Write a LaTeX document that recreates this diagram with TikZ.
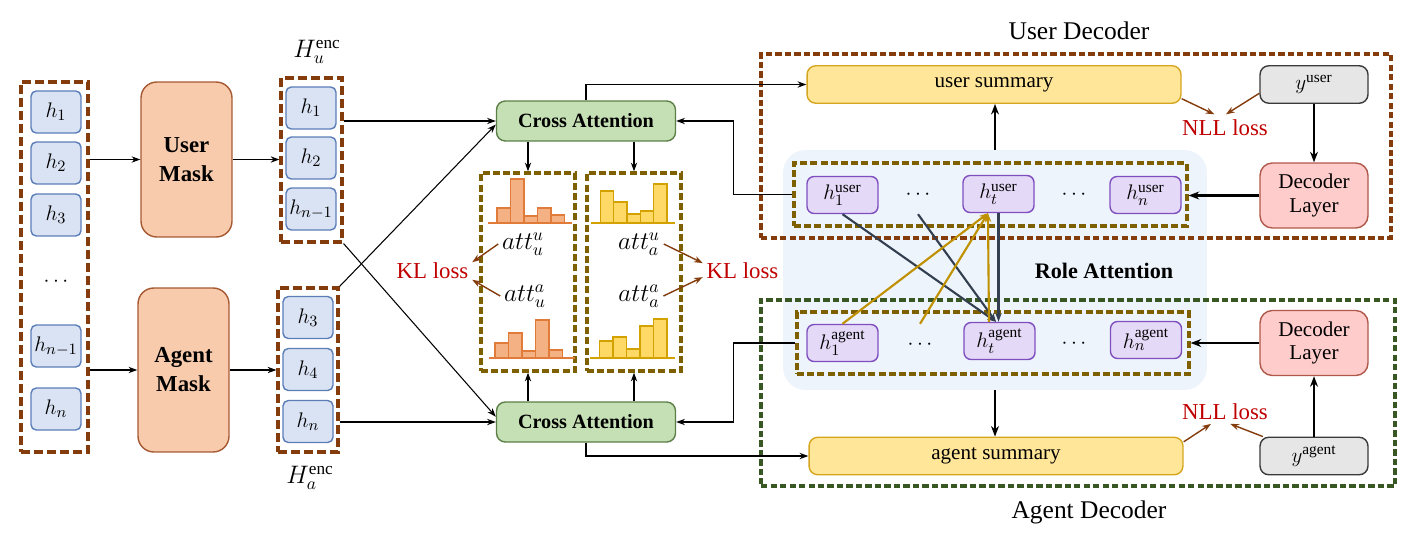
\documentclass[tikz,border=0pt]{standalone}
\usepackage{fontspec}
\setmainfont{Liberation Serif}
\usetikzlibrary{arrows.meta}
\definecolor{encbrown}{HTML}{843C0C}
\definecolor{decgreen}{HTML}{385723}
\definecolor{goldline}{HTML}{7F6000}
\definecolor{hfill}{HTML}{DAE3F3}
\definecolor{hdraw}{HTML}{5B7DB8}
\definecolor{maskfill}{HTML}{F8CBAD}
\definecolor{maskdraw}{HTML}{A65A32}
\definecolor{cafill}{HTML}{C5E0B4}
\definecolor{cadraw}{HTML}{5B7F46}
\definecolor{sumfill}{HTML}{FFE699}
\definecolor{sumdraw}{HTML}{D6A520}
\definecolor{gtfill}{HTML}{E7E6E6}
\definecolor{gtdraw}{HTML}{3A3A3A}
\definecolor{decfill}{HTML}{FFCCCC}
\definecolor{decdraw}{HTML}{B0584A}
\definecolor{rhfill}{HTML}{E4D9F6}
\definecolor{rhdraw}{HTML}{7F4FBF}
\definecolor{rolebgc}{HTML}{EEF4FB}
\definecolor{barUfill}{HTML}{F4B183}
\definecolor{barUdraw}{HTML}{E07B39}
\definecolor{barAfill}{HTML}{FFD966}
\definecolor{barAdraw}{HTML}{D4A200}
\definecolor{lossred}{HTML}{C00000}
\definecolor{attgold}{HTML}{BF9000}
\definecolor{attdark}{HTML}{333F50}
\tikzset{
  >={Stealth[length=5pt,width=3.6pt]},
  hbox/.style={draw=hdraw, fill=hfill, line width=0.8pt, rounded corners=3pt, minimum width=1cm, minimum height=0.84cm, inner sep=0pt, font=\fontsize{12.5}{14}\selectfont},
  encbox/.style={draw=encbrown, line width=1.8pt, dash pattern=on 5pt off 2.4pt},
  decbox/.style={line width=1.8pt, dash pattern=on 3.6pt off 1.8pt},
  goldbox/.style={draw=goldline, line width=1.9pt, dash pattern=on 4pt off 1.8pt},
  mask/.style={draw=maskdraw, fill=maskfill, line width=0.8pt, rounded corners=9pt, minimum width=1.82cm, align=center, font=\fontsize{13}{16.5}\selectfont\bfseries},
  crossatt/.style={draw=cadraw, fill=cafill, line width=0.8pt, rounded corners=5pt, minimum width=3.58cm, minimum height=0.8cm, font=\fontsize{11.5}{13}\selectfont\bfseries},
  summ/.style={draw=sumdraw, fill=sumfill, line width=0.8pt, rounded corners=5pt, minimum width=7.48cm, minimum height=0.75cm, font=\fontsize{12}{14}\selectfont},
  gtbox/.style={draw=gtdraw, fill=gtfill, line width=0.8pt, rounded corners=5pt, minimum width=2.16cm, minimum height=0.75cm, font=\fontsize{12.5}{14}\selectfont},
  declayer/.style={draw=decdraw, fill=decfill, line width=0.8pt, rounded corners=7pt, minimum width=2.16cm, minimum height=1.3cm, align=center, font=\fontsize{12}{13.5}\selectfont},
  rolebox/.style={draw=rhdraw, fill=rhfill, line width=0.8pt, rounded corners=4pt, minimum width=1.42cm, minimum height=0.74cm, inner sep=0pt, font=\fontsize{12.5}{14}\selectfont},
  losstxt/.style={text=lossred, inner sep=2pt, font=\fontsize{13}{15}\selectfont},
  atttxt/.style={inner sep=2pt, font=\fontsize{14}{16}\selectfont},
  titletxt/.style={font=\fontsize{14.5}{17}\selectfont},
  thinarr/.style={->, line width=0.6pt},
  bigarr/.style={-{Stealth[length=6pt,width=4.5pt]}, line width=1.3pt},
  lossarr/.style={->, encbrown, line width=0.8pt},
  darkarr/.style={->, attdark, line width=1.2pt},
  goldarr/.style={->, attgold, line width=1.2pt},
  barU/.style={draw=barUdraw, fill=barUfill, line width=0.7pt},
  barA/.style={draw=barAdraw, fill=barAfill, line width=0.7pt}
}
\begin{document}
\begin{tikzpicture}[x=0.02cm,y=-0.02cm]
  \useasboundingbox (0,0) rectangle (1412,534);
  %% encoder states
  \node[encbox, minimum width=1.34cm, minimum height=7.4cm] (inbox) at (54.5,267) {};
  \node[hbox] (in1) at (56,112) {$h_1$};
  \node[hbox] (in2) at (56,163) {$h_2$};
  \node[hbox] (in3) at (56,215) {$h_3$};
  \node[font=\fontsize{12}{14}\selectfont] (indots) at (56,282) {$\cdots$};
  \node[hbox] (in4) at (56,346) {$h_{n-1}$};
  \node[hbox] (in5) at (56,409) {$h_n$};
  %% masks
  \node[mask, minimum height=3.1cm] (umask) at (186.5,159.5) {User\\Mask};
  \node[mask, minimum height=3.28cm] (amask) at (183.5,370) {Agent\\Mask};
  \draw[thinarr] (inbox.east |- umask.west) -- (umask.west);
  \draw[thinarr] (inbox.east |- amask.west) -- (amask.west);
  %% masked states
  \node[encbox, minimum width=1.22cm, minimum height=3.28cm] (hubox) at (311.5,160) {};
  \node[hbox] (hu1) at (311,108) {$h_1$};
  \node[hbox] (hu2) at (311,158) {$h_2$};
  \node[hbox] (hu3) at (311,209) {$h_{n-1}$};
  \node[atttxt] (hulab) at (317,52) {$H_u^{\mathrm{enc}}$};
  \node[encbox, minimum width=1.2cm, minimum height=3.28cm] (habox) at (308,370) {};
  \node[hbox] (ha1) at (308,317.5) {$h_3$};
  \node[hbox] (ha2) at (308,369.5) {$h_4$};
  \node[hbox] (ha3) at (308,421.5) {$h_n$};
  \node[atttxt] (halab) at (310,478) {$H_a^{\mathrm{enc}}$};
  \draw[thinarr] (umask.east) -- (umask.east -| hubox.west);
  \draw[thinarr] (amask.east) -- (amask.east -| habox.west);
  %% cross attention
  \node[crossatt] (catop) at (586,121) {Cross Attention};
  \node[crossatt] (cabot) at (586,422) {Cross Attention};
  \draw[thinarr] (hubox.east |- catop.west) -- (catop.west);
  \draw[thinarr] (habox.east |- cabot.west) -- (cabot.west);
  \draw[thinarr] (hubox.south east) -- ([yshift=3pt]cabot.west);
  \draw[thinarr] (habox.north east) -- ([yshift=-2pt]catop.west);
  %% attention distributions
  \node[goldbox, minimum width=1.88cm, minimum height=3.96cm] (attl) at (528,272) {};
  \node[goldbox, minimum width=1.88cm, minimum height=3.96cm] (attr) at (634,272) {};
  \draw[thinarr] (catop.south -| attl.north) -- (attl.north);
  \draw[thinarr] (catop.south -| attr.north) -- (attr.north);
  \draw[thinarr] (cabot.north -| attl.south) -- (attl.south);
  \draw[thinarr] (cabot.north -| attr.south) -- (attr.south);
  \foreach \hh [count=\i from 0] in {15,44,7,15,8}
    \draw[barU] ({497+13.5*\i},223) rectangle ++(13.5,-\hh);
  \foreach \hh [count=\i from 0] in {15,25,7,38,8}
    \draw[barU] ({495+13.5*\i},358) rectangle ++(13.5,-\hh);
  \foreach \hh [count=\i from 0] in {32,21,9,12,39}
    \draw[barA] ({600.5+13.3*\i},223) rectangle ++(13.3,-\hh);
  \foreach \hh [count=\i from 0] in {17,21,9,32,39}
    \draw[barA] ({599.5+13.5*\i},358) rectangle ++(13.5,-\hh);
  \draw[barUdraw, line width=0.7pt] (488,223) -- (572,223);
  \draw[barUdraw, line width=0.7pt] (489,358) -- (575,358);
  \draw[barAdraw, line width=0.7pt] (591,223) -- (675,223);
  \draw[barAdraw, line width=0.7pt] (590,358) -- (675,358);
  \node[atttxt] (attuu) at (523,244) {$att_u^u$};
  \node[atttxt] (attua) at (525,296) {$att_u^a$};
  \node[atttxt] (attau) at (639,244) {$att_a^u$};
  \node[atttxt] (attaa) at (639,296) {$att_a^a$};
  %% KL losses
  \node[losstxt] (klL) at (432.5,271) {KL loss};
  \node[losstxt] (klR) at (742.5,271) {KL loss};
  \draw[lossarr] (attuu.west) -- ([yshift=5pt]klL.east);
  \draw[lossarr] (attua.west) -- ([yshift=-5pt]klL.east);
  \draw[lossarr] (attau.east) -- ([yshift=4.5pt]klR.west);
  \draw[lossarr] (attaa.east) -- ([yshift=-3.5pt]klR.west);
  %% role attention
  \node[fill=rolebgc, rounded corners=0.45cm, minimum width=8.48cm, minimum height=4.8cm] (rolebg) at (995,270) {};
  \node[font=\fontsize{12.6}{15}\selectfont\bfseries] (rolelab) at (1104,271) {Role Attention};
  %% decoders
  \node[decbox, draw=encbrown, minimum width=12.6cm, minimum height=3.68cm] (udec) at (1076,146) {};
  \node[decbox, draw=decgreen, minimum width=12.68cm, minimum height=3.72cm] (adec) at (1078,393) {};
  \node[titletxt] (udeclab) at (1079,31) {User Decoder};
  \node[titletxt] (adeclab) at (1089,512) {Agent Decoder};
  \node[goldbox, minimum width=7.86cm, minimum height=1.26cm] (uhbox) at (990.5,194.5) {};
  \node[goldbox, minimum width=7.84cm, minimum height=1.24cm] (ahbox) at (993,343) {};
  \node[rolebox] (h1u) at (842.5,195) {$h_1^{\mathrm{user}}$};
  \node[font=\fontsize{12}{14}\selectfont] (dotsu1) at (918,195) {$\cdots$};
  \node[rolebox] (htu) at (998.5,194) {$h_t^{\mathrm{user}}$};
  \node[font=\fontsize{12}{14}\selectfont] (dotsu2) at (1074,195) {$\cdots$};
  \node[rolebox] (hnu) at (1145.5,195) {$h_n^{\mathrm{user}}$};
  \node[rolebox] (h1a) at (842.5,343) {$h_1^{\mathrm{agent}}$};
  \node[font=\fontsize{12}{14}\selectfont] (dotsa1) at (920,345) {$\cdots$};
  \node[rolebox] (hta) at (999.5,341) {$h_t^{\mathrm{agent}}$};
  \node[font=\fontsize{12}{14}\selectfont] (dotsa2) at (1074,344) {$\cdots$};
  \node[rolebox] (hna) at (1146,340) {$h_n^{\mathrm{agent}}$};
  \draw[darkarr] (h1u.south) -- ([xshift=-2pt]hta.north);
  \draw[darkarr] (dotsu1 |- h1u.south) -- ([xshift=-2pt]hta.north);
  \draw[darkarr] (htu.south) -- (htu.south |- hta.north);
  \draw[goldarr] (h1a.north) -- ([xshift=-6pt]htu.south);
  \draw[goldarr] (dotsa1 |- h1a.north) -- ([xshift=-6pt]htu.south);
  \draw[goldarr] ([xshift=-6pt]hta.north) -- ([xshift=-6pt]htu.south);
  %% summaries and targets
  \node[summ] (usum) at (994,84.5) {user summary};
  \node[summ] (asum) at (996,456) {agent summary};
  \node[gtbox] (yuser) at (1314,84.5) {$y^{\mathrm{user}}$};
  \node[gtbox] (yagent) at (1314,456) {$y^{\mathrm{agent}}$};
  \node[declayer] (declu) at (1314,195.5) {Decoder\\Layer};
  \node[declayer] (decla) at (1314,343) {Decoder\\Layer};
  \draw[bigarr] (rolebg.north) -- (rolebg.north |- usum.south);
  \draw[bigarr] (rolebg.south) -- (rolebg.south |- asum.north);
  \draw[bigarr] (yuser.south) -- (declu.north);
  \draw[bigarr] (yagent.north) -- (decla.south);
  \draw[bigarr] (declu.west) -- (declu.west -| uhbox.east);
  \draw[bigarr] (decla.west) -- (decla.west -| ahbox.east);
  %% NLL losses
  \node[losstxt, inner sep=3pt] (nllu) at (1225,128) {NLL loss};
  \node[losstxt] (nlla) at (1225,412) {NLL loss};
  \draw[lossarr] ([yshift=3pt]usum.south east) -- ([xshift=-6pt]nllu.north);
  \draw[lossarr] ([yshift=-5pt]yuser.west) -- ([xshift=0.5pt]nllu.north);
  \draw[lossarr] ([yshift=-3pt]asum.north east) -- ([xshift=-8pt]nlla.south);
  \draw[lossarr] ([xshift=2pt]yagent.north west) -- ([xshift=3pt]nlla.south);
  %% cross attention links
  \draw[thinarr] (catop.north) |- (usum.west);
  \draw[thinarr] (cabot.south) |- (asum.west);
  \draw[thinarr] (uhbox.west) -- ++(-59,0) |- (catop.east);
  \draw[thinarr] (ahbox.west) -- ++(-62,0) |- (cabot.east);
\end{tikzpicture}
\end{document}
